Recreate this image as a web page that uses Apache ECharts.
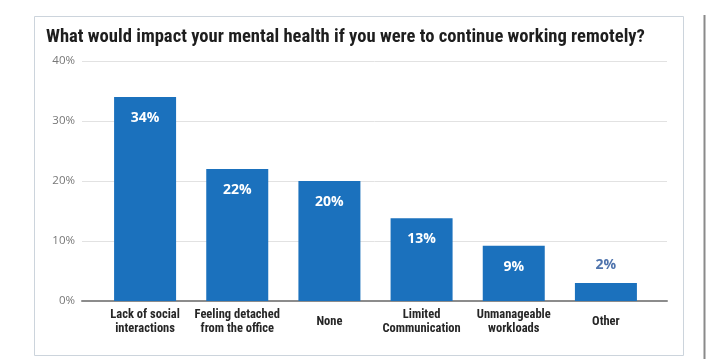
<!DOCTYPE html>
<html><head><meta charset="utf-8">
<script src="https://cdn.jsdelivr.net/npm/echarts@6/dist/echarts.min.js"></script>
<style>html,body{margin:0;padding:0;background:#fff}#c{width:720px;height:359px}</style>
</head><body><div id="c"></div>
<script>
const titleText = 'What would impact your mental health if you were to continue working remotely?';
const categories = ['Lack of social\ninteractions', 'Feeling detached\nfrom the office', 'None', 'Limited\nCommunication', 'Unmanageable\nworkloads', 'Other'];
const values = [34, 22, 20, 13.8, 9.2, 3];
const valueLabels = ['34%', '22%', '20%', '13%', '9%', '2%'];
const yMin = 0, yMax = 40, yStep = 10;

const chart = echarts.init(document.getElementById('c'), null, {renderer: 'canvas'});
const condensed = '"Roboto Condensed", "Open Sans Condensed", sans-serif';

const barData = values.map((v, i) => {
  const item = {value: v};
  if (v < 5) {
    item.label = {position: 'top', distance: 11, color: '#4f74ad'};
  }
  return item;
});

chart.setOption({
  backgroundColor: '#fff',
  animation: false,
  title: {
    text: titleText, left: 41, top: 23,
    textStyle: {fontFamily: condensed, fontSize: 18.6, fontWeight: 'bold', color: '#1e1e1e'}
  },
  graphic: [
    {type: 'rect', shape: {x: 34.5, y: 16.5, width: 649, height: 339}, style: {fill: 'none', stroke: '#ccd4dc', lineWidth: 1}, silent: true},
    {type: 'line', shape: {x1: 704.5, y1: 15, x2: 704.5, y2: 359}, style: {stroke: '#8a8a8a', lineWidth: 2}, silent: true}
  ],
  grid: [
    {left: 82, right: 53, top: 61, bottom: 58},
    {left: 99, right: 68, top: 61, bottom: 58}
  ],
  xAxis: [
    {gridIndex: 0, type: 'category', data: [''], axisLine: {show: true, lineStyle: {color: '#8c8c8c', width: 2}}, axisTick: {show: false}, axisLabel: {show: false}},
    {gridIndex: 1, type: 'category', data: categories, axisLine: {show: false}, axisTick: {show: false},
     axisLabel: {interval: 0, margin: 21, verticalAlign: 'middle', lineHeight: 14, fontFamily: condensed, fontSize: 12.5, fontWeight: 'bold', color: '#262626'}}
  ],
  yAxis: [
    {gridIndex: 0, type: 'value', min: yMin, max: yMax, interval: yStep,
     axisLine: {show: false}, axisTick: {show: false},
     splitLine: {lineStyle: {color: '#e2e2e2', width: 1}},
     axisLabel: {margin: 7, formatter: v => v + '%', fontFamily: 'Open Sans, sans-serif', fontSize: 11.5, color: '#777'}},
    {gridIndex: 1, type: 'value', min: yMin, max: yMax, interval: yStep, show: false, splitLine: {show: false}}
  ],
  series: [{
    type: 'bar', xAxisIndex: 1, yAxisIndex: 1, barWidth: 62,
    itemStyle: {color: '#1b71bd'},
    data: barData,
    label: {
      show: true, position: 'insideTop', distance: 14,
      formatter: p => valueLabels[p.dataIndex],
      color: '#fff', fontFamily: 'Open Sans, sans-serif', fontWeight: 'bold', fontSize: 14
    }
  }]
});
</script>
</body></html>
